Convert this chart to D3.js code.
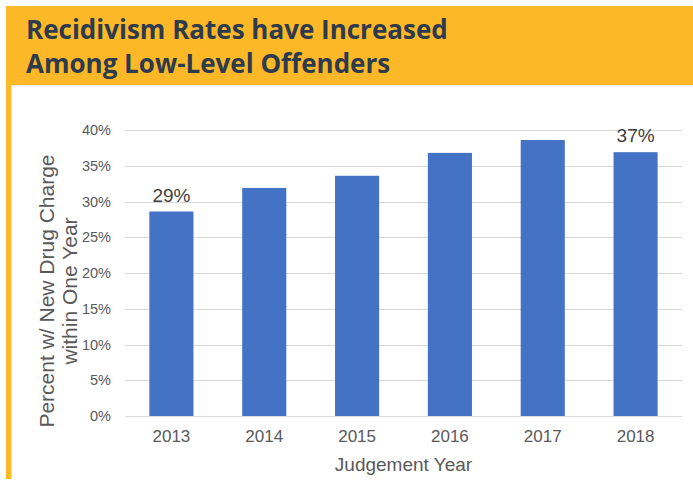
<!DOCTYPE html>
<html>
<head>
<meta charset="utf-8">
<script src="https://cdn.jsdelivr.net/npm/d3@7"></script>
<style>
  body { margin: 0; background: #fff; }
  svg { display: block; }
</style>
</head>
<body>
<svg id="chart" width="693" height="480"></svg>
<script>
var years = ['2013', '2014', '2015', '2016', '2017', '2018'];
var rates = [28.6, 31.9, 33.6, 36.8, 38.6, 36.9];
var shownLabels = ['29%', '', '', '', '', '37%'];
var yTicks = [0, 5, 10, 15, 20, 25, 30, 35, 40];
var titleLines = ['Recidivism Rates have Increased', 'Among Low-Level Offenders'];
var yTitleLines = ['Percent w/ New Drug Charge', 'within One Year'];
var xTitle = 'Judgement Year';

var svg = d3.select('#chart');
var plotLeft = 125, plotRight = 682, plotTop = 130, plotBottom = 416;
var font = 'Liberation Sans, Arial, sans-serif';

/* Frame */
svg.append('rect')
    .attr('x', 6).attr('y', 6).attr('width', 687).attr('height', 79)
    .style('fill', '#FDB827');
svg.append('rect')
    .attr('x', 6).attr('y', 6).attr('width', 5).attr('height', 473)
    .style('fill', '#FDB827');
svg.append('line')
    .attr('x1', 11.5).attr('x2', 11.5).attr('y1', 85).attr('y2', 480)
    .style('stroke', '#e6e6e6');
svg.append('line')
    .attr('x1', 11).attr('x2', 693).attr('y1', 85.5).attr('y2', 85.5)
    .style('stroke', '#ececec');

svg.append('g')
    .selectAll('text')
    .data(titleLines)
    .join('text')
    .attr('x', 26)
    .attr('y', function(d, i) { return 39 + i * 34; })
    .style('font-family', 'Open Sans, sans-serif')
    .style('font-weight', 700)
    .style('font-size', '26px')
    .style('fill', '#2E3A4E')
    .text(function(d) { return d; });

/* Scales */
var x = d3.scaleBand().domain(years).range([plotLeft, plotRight]).paddingInner(0.525).paddingOuter(0.2625);
var y = d3.scaleLinear().domain([0, 40]).range([plotBottom, plotTop]);

/* Grid */
svg.append('g')
    .selectAll('line')
    .data(yTicks)
    .join('line')
    .attr('x1', plotLeft).attr('x2', plotRight)
    .attr('y1', function(d) { return Math.round(y(d)) + 0.5; })
    .attr('y2', function(d) { return Math.round(y(d)) + 0.5; })
    .style('stroke', '#d9d9d9')
    .style('stroke-width', 1.2);

var yAxis = svg.append('g')
    .attr('transform', 'translate(' + (plotLeft - 14) + ',0)')
    .call(d3.axisLeft(y).tickValues(yTicks).tickSize(0).tickPadding(0)
        .tickFormat(function(d) { return d + '%'; }));
yAxis.select('.domain').remove();
yAxis.selectAll('text')
    .style('font-family', font)
    .style('font-size', '14.5px')
    .style('fill', '#595959');

/* Bars */
svg.append('g')
    .selectAll('rect')
    .data(rates)
    .join('rect')
    .attr('x', function(d, i) { return x(years[i]); })
    .attr('y', function(d) { return y(d); })
    .attr('width', x.bandwidth())
    .attr('height', function(d) { return y(0) - y(d); })
    .style('fill', '#4472C4');

svg.append('g')
    .selectAll('text')
    .data(rates)
    .join('text')
    .attr('x', function(d, i) { return x(years[i]) + x.bandwidth() / 2; })
    .attr('y', function(d) { return y(d) - 10; })
    .style('text-anchor', 'middle')
    .style('font-family', font)
    .style('font-size', '19px')
    .style('fill', '#404040')
    .text(function(d, i) { return shownLabels[i]; });

var xAxis = svg.append('g')
    .attr('transform', 'translate(0,' + plotBottom + ')')
    .call(d3.axisBottom(x).tickSize(0).tickPadding(14));
xAxis.select('.domain').remove();
xAxis.selectAll('text')
    .style('font-family', font)
    .style('font-size', '17px')
    .style('fill', '#595959');

/* Axis titles */
svg.append('text')
    .attr('x', (plotLeft + plotRight) / 2)
    .attr('y', 471)
    .style('text-anchor', 'middle')
    .style('font-family', font)
    .style('font-size', '19px')
    .style('fill', '#595959')
    .text(xTitle);

svg.append('g')
    .selectAll('text')
    .data(yTitleLines)
    .join('text')
    .attr('transform', function(d, i) {
        return 'translate(' + (54 + i * 23) + ',291) rotate(-90)';
    })
    .style('text-anchor', 'middle')
    .style('font-family', font)
    .style('font-size', '21px')
    .style('fill', '#595959')
    .text(function(d) { return d; });
</script>
</body>
</html>
